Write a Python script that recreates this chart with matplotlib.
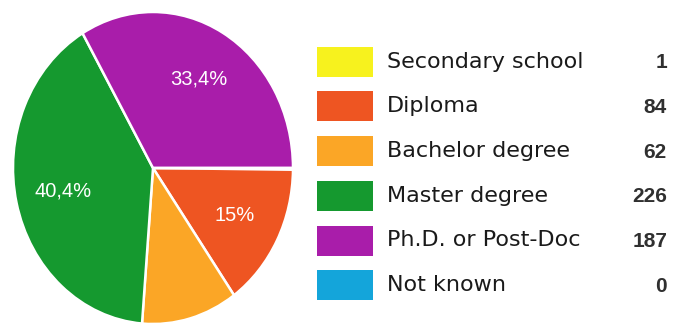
import matplotlib
matplotlib.use("Agg")
import matplotlib.pyplot as plt
from matplotlib.patches import Rectangle

# Survey responses by highest education level
categories = ["Secondary school", "Diploma", "Bachelor degree",
              "Master degree", "Ph.D. or Post-Doc", "Not known"]
counts = [1, 84, 62, 226, 187, 0]
colors = ["#F7F21E", "#EE5522", "#FBA626", "#15992F", "#A91DAA", "#14A5DA"]

W, H = 674, 323
fig = plt.figure(figsize=(W / 100, H / 100), dpi=100)
fig.patch.set_facecolor("white")

# Pie axes, placed in pixel units (slightly taller than wide)
cx, cy, rx, ry = 153, 168, 140, 156
pad = 1.02
ax_w, ax_h = 2 * pad * rx, 2 * pad * ry
ax = fig.add_axes([(cx - pad * rx) / W, (H - (cy + pad * ry)) / H, ax_w / W, ax_h / H])


def pct_label(p):
    if p < 12:
        return ""
    s = f"{p:.1f}".replace(".", ",")
    if s.endswith(",0"):
        s = s[:-2]
    return s + "%"


wedges, texts, autotexts = ax.pie(
    counts, colors=colors, startangle=0, counterclock=False,
    autopct=pct_label, pctdistance=0.66, radius=1,
    wedgeprops=dict(edgecolor="white", linewidth=1.8),
    textprops=dict(color="white", fontsize=14.5, family="Liberation Sans"),
)
ax.set_aspect("auto")
ax.set_xlim(-pad, pad)
ax.set_ylim(-pad, pad)
ax.axis("off")

# Legend drawn in pixel coordinates
lg = fig.add_axes([0, 0, 1, 1])
lg.set_xlim(0, W)
lg.set_ylim(H, 0)
lg.axis("off")
lg.patch.set_alpha(0)

row0, step = 61.7, 44.7
for i, (name, val, col) in enumerate(zip(categories, counts, colors)):
    yc = row0 + i * step
    lg.add_patch(Rectangle((317, yc - 15), 56, 30, facecolor=col, edgecolor="none"))
    lg.text(387, yc, name, fontsize=16, family="DejaVu Sans", color="#1a1a1a",
            va="center", ha="left")
    lg.text(667, yc + 1, str(val), fontsize=15, family="Liberation Sans",
            color="#303030", va="center", ha="right", fontweight="bold")

fig.savefig("out.png", dpi=100, facecolor="white")
